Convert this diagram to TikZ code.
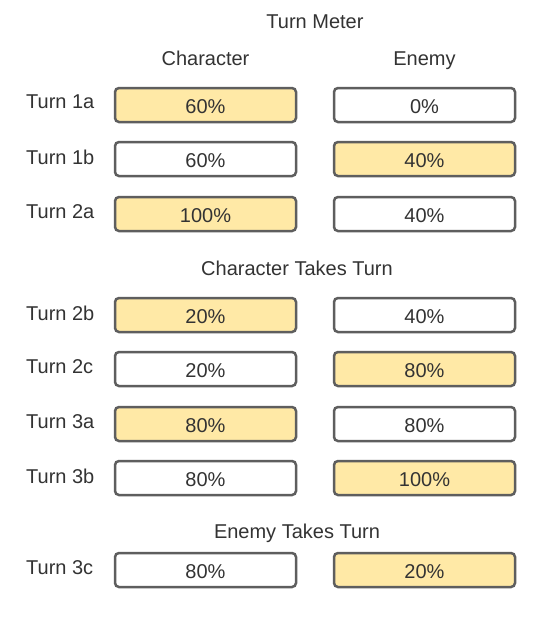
\documentclass[tikz,border=0pt]{standalone}
\usepackage{fontspec}
\setmainfont{Liberation Sans}
\usepackage{tikz}
\usetikzlibrary{positioning}
\definecolor{meteryellow}{HTML}{FFE9A6}
\definecolor{meterborder}{HTML}{5E5E5E}
\definecolor{metertext}{HTML}{333333}

\tikzset{
  meter/.style={draw=meterborder,line width=2.5pt,rounded corners=4pt,
    minimum width=181pt,minimum height=34pt,inner sep=0pt,
    text height=17pt,text depth=0pt,
    text=metertext,font=\fontsize{20}{24}\selectfont},
  full/.style={meter,fill=meteryellow},
  empty/.style={meter,fill=white},
  turnlabel/.style={anchor=west,inner sep=0pt,text=metertext,
    font=\fontsize{20}{24}\selectfont},
  heading/.style={inner sep=0pt,text=metertext,
    text height=16pt,text depth=0pt,
    font=\fontsize{20}{24}\selectfont}
}

\begin{document}
\begin{tikzpicture}[x=1pt,y=-1pt]
  \useasboundingbox[fill=white] (0,0) rectangle (557,627);

  % headings
  \node[heading] (title) at (315,20) {Turn Meter};
  \node[heading] (charhead) at (205.5,57) {Character};
  \node[heading] (enemyhead) at (424.5,57) {Enemy};

  % turn 1a
  \node[turnlabel] (t1a) at (26,102) {Turn 1a};
  \node[full] (c1a) at (205.5,105) {60\%};
  \node[empty] (e1a) at (424.5,105) {0\%};

  % turn 1b
  \node[turnlabel] (t1b) at (26,157) {Turn 1b};
  \node[empty] (c1b) at (205.5,159) {60\%};
  \node[full] (e1b) at (424.5,159) {40\%};

  % turn 2a
  \node[turnlabel] (t2a) at (26,212) {Turn 2a};
  \node[full] (c2a) at (205.5,214) {100\%};
  \node[empty] (e2a) at (424.5,214) {40\%};

  \node[heading] (chartakes) at (297,267) {Character Takes Turn};

  % turn 2b
  \node[turnlabel] (t2b) at (26,313) {Turn 2b};
  \node[full] (c2b) at (205.5,315) {20\%};
  \node[empty] (e2b) at (424.5,315) {40\%};

  % turn 2c
  \node[turnlabel] (t2c) at (26,367) {Turn 2c};
  \node[empty] (c2c) at (205.5,369) {20\%};
  \node[full] (e2c) at (424.5,369) {80\%};

  % turn 3a
  \node[turnlabel] (t3a) at (26,422) {Turn 3a};
  \node[full] (c3a) at (205.5,424) {80\%};
  \node[empty] (e3a) at (424.5,424) {80\%};

  % turn 3b
  \node[turnlabel] (t3b) at (26,476) {Turn 3b};
  \node[empty] (c3b) at (205.5,478) {80\%};
  \node[full] (e3b) at (424.5,478) {100\%};

  \node[heading] (enemytakes) at (297,530) {Enemy Takes Turn};

  % turn 3c
  \node[turnlabel] (t3c) at (26,568) {Turn 3c};
  \node[empty] (c3c) at (205.5,570) {80\%};
  \node[full] (e3c) at (424.5,570) {20\%};
\end{tikzpicture}
\end{document}
